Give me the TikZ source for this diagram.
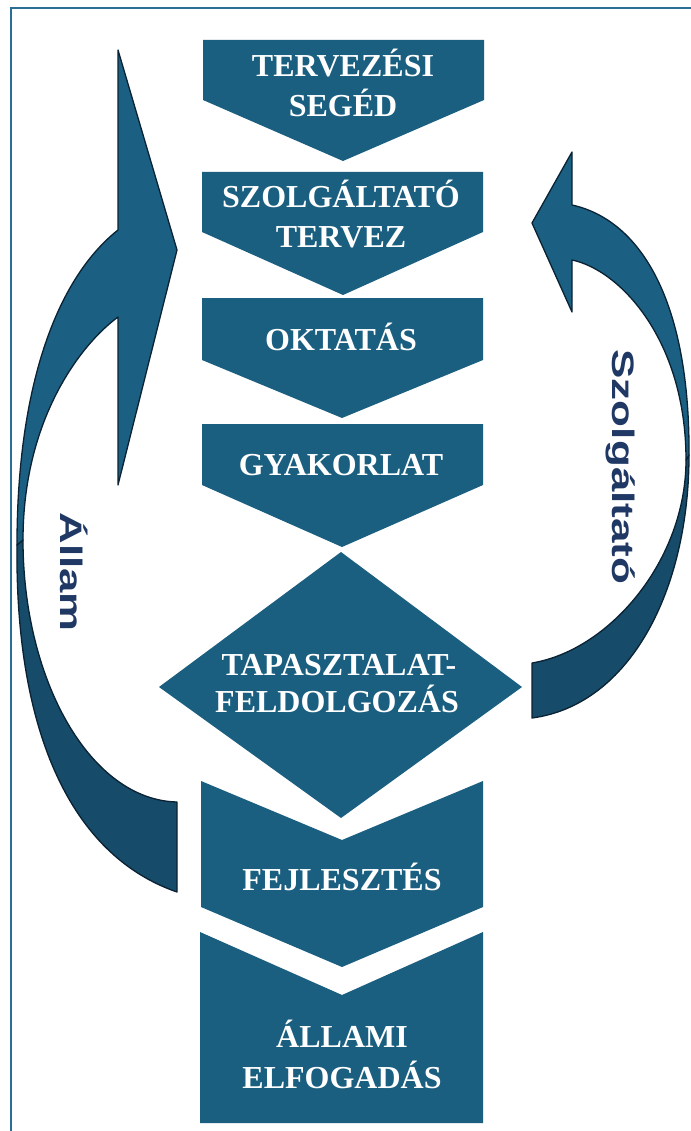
\documentclass[tikz,border=0pt]{standalone}
\usepackage{fontspec}
\setmainfont{Liberation Serif}
\newfontfamily\sidefont{Liberation Sans}
\definecolor{chevblue}{RGB}{26,94,128}
\definecolor{arrlight}{RGB}{27,96,131}
\definecolor{arrdark}{RGB}{22,75,105}
\definecolor{edgec}{RGB}{10,34,51}
\definecolor{framec}{RGB}{40,110,150}
\definecolor{sidetext}{RGB}{31,56,100}
\tikzset{
  chev/.style={fill=chevblue},
  arrfront/.style={fill=arrlight, draw=edgec, line width=1.3pt, line join=round},
  arrback/.style={fill=arrdark, draw=edgec, line width=1.3pt, line join=round},
  lbl/.style={text=white, font=\fontsize{32}{32}\selectfont\bfseries, inner sep=0pt, anchor=base},
  side/.style={text=sidetext, font=\sidefont\fontsize{31}{31}\selectfont\bfseries, inner sep=0pt, anchor=base, rotate=-90}
}
\begin{document}
\begin{tikzpicture}[x={(1pt,0)}, y={(0,-1pt)}]
\useasboundingbox (0,0) rectangle (690,1131);
\fill[white] (0,0) rectangle (690,1131);
% frame
\draw[framec, line width=2.2pt] (11,1140) -- (11,8) -- (700,8);

% left arrow (Allam)
\filldraw[arrback] (17,545) .. controls (15,730) and (70,855) .. (177,892) -- (177,802) .. controls (90,800) and (23,680) .. (23,540) -- cycle;
\filldraw[arrfront] (118,50) -- (177,250) -- (118,485) -- (118,317) .. controls (80,345) and (23,420) .. (23,540) -- (17,545) .. controls (17,390) and (55,280) .. (118,230) -- cycle;

% right arrow (Szolgaltato)
\filldraw[arrback] (689,455) .. controls (689,590) and (630,705) .. (532,718) -- (532,663) .. controls (610,650) and (686,560) .. (686,460) -- cycle;
\filldraw[arrfront] (572,152) -- (532,223) -- (572,312) -- (572,260) .. controls (620,270) and (686,340) .. (686,460) -- (689,455) .. controls (690,300) and (640,220) .. (572,205) -- cycle;

% chevrons
\fill[chev] (203,40) -- (484,40) -- (484,100) -- (343,161) -- (203,100) -- cycle;
\fill[chev] (202,172) -- (483,172) -- (483,232) -- (343,295) -- (202,232) -- cycle;
\fill[chev] (202,298) -- (483,298) -- (483,360) -- (342,418) -- (202,360) -- cycle;
\fill[chev] (202,424) -- (483,424) -- (483,485) -- (342,547) -- (202,485) -- cycle;
\fill[chev] (341,552) -- (522,687) -- (341,818) -- (159,687) -- cycle;
\fill[chev] (201,781) -- (342,840) -- (483,781) -- (483,907) -- (342,967) -- (201,907) -- cycle;
\fill[chev] (200,932) -- (342,995) -- (483,932) -- (483,1123) -- (200,1123) -- cycle;

% labels
\node[lbl] (t1a) at (343,77) {TERVEZÉSI};
\node[lbl] (t1b) at (343,117) {SEGÉD};
\node[lbl] (t2a) at (341,208) {SZOLGÁLTATÓ};
\node[lbl] (t2b) at (341,248) {TERVEZ};
\node[lbl] (t3) at (341,350) {OKTATÁS};
\node[lbl] (t4) at (341,475) {GYAKORLAT};
\node[lbl] (t5a) at (339,675) {TAPASZTALAT-};
\node[lbl] (t5b) at (337,712) {FELDOLGOZÁS};
\node[lbl] (t6) at (342,890) {FEJLESZTÉS};
\node[lbl] (t7a) at (342,1047) {ÁLLAMI};
\node[lbl] (t7b) at (342,1088) {ELFOGADÁS};

% side labels
\node[side] (allam) at (60,572) {\scalebox{1.41}[1]{Állam}};
\node[side] (szolg) at (612,467) {\scalebox{1.42}[1]{Szolgáltató}};
\end{tikzpicture}
\end{document}
